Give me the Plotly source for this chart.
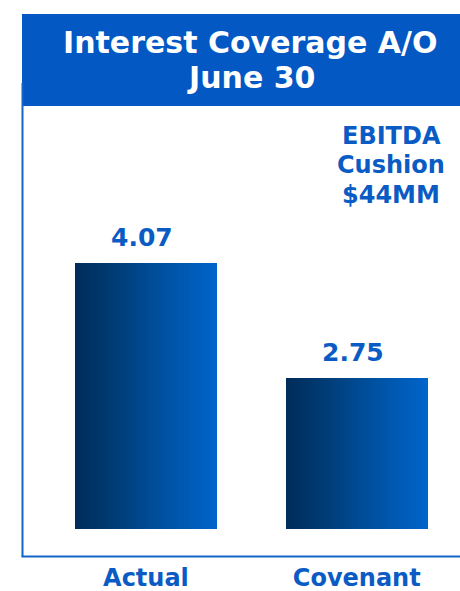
import plotly.graph_objects as go

# Data
categories = ["Actual", "Covenant"]
values = [4.07, 2.75]
value_labels = ["4.07", "2.75"]
title_lines = ["Interest Coverage A/O", "June 30"]
cushion_lines = ["EBITDA", "Cushion", "$44MM"]

# Page / plot geometry (pixels)
W, H = 460, 591
M_L, M_R, M_T, M_B = 22, 0, 106, 62
PLOT_H = H - M_T - M_B

FONT = "Verdana, DejaVu Sans, sans-serif"
HEADER_BLUE = "#0358c4"
TEXT_BLUE = "#0a5cc4"
FRAME_BLUE = "#1464c8"

BAR_W = 0.674
N_SLICES = 60
# horizontal gradient stops across each bar (position, rgb)
grad_stops = [
    (0.00, (0, 44, 90)),
    (0.25, (0, 58, 114)),
    (0.50, (0, 74, 146)),
    (0.75, (0, 88, 176)),
    (1.00, (0, 100, 204)),
]


def grad_color(t):
    for (p0, c0), (p1, c1) in zip(grad_stops[:-1], grad_stops[1:]):
        if t <= p1:
            f = (t - p0) / (p1 - p0)
            return "rgb(%d,%d,%d)" % tuple(round(a + (b - a) * f) for a, b in zip(c0, c1))
    return "rgb(%d,%d,%d)" % grad_stops[-1][1]


def py(pix):
    """pixel row -> paper y"""
    return (H - M_B - pix) / PLOT_H


def px(pix):
    """pixel column -> paper x"""
    return (pix - M_L) / (W - M_L - M_R)


fig = go.Figure()

slice_w = BAR_W / N_SLICES
for j in range(N_SLICES):
    t = (j + 0.5) / N_SLICES
    fig.add_trace(go.Bar(
        x=categories,
        y=values,
        width=slice_w * 1.15,
        offset=-BAR_W / 2 + j * slice_w,
        marker=dict(color=grad_color(t), line=dict(width=0)),
        hoverinfo="skip",
        showlegend=False,
    ))

# value labels above bars
for cat, v, lab in zip(categories, values, value_labels):
    fig.add_annotation(
        x=cat, y=v, text="<b>%s</b>" % lab, showarrow=False,
        xanchor="center", yanchor="bottom", yshift=9, xshift=-4,
        font=dict(family=FONT, size=25, color=TEXT_BLUE),
    )

# header band and title
fig.add_shape(type="rect", xref="paper", yref="paper",
              x0=px(22), x1=px(470), y0=py(106), y1=py(14),
              fillcolor=HEADER_BLUE, line=dict(width=0), layer="above")
for line, base in zip(title_lines, [54.5, 89.5]):
    fig.add_annotation(xref="paper", yref="paper", x=px(250.5), y=py(base),
                       text="<b>%s</b>" % line, showarrow=False,
                       xanchor="center", yanchor="bottom", yshift=-7,
                       font=dict(family=FONT, size=30, color="white"))

# frame: left and bottom rules
fig.add_shape(type="line", xref="paper", yref="paper",
              x0=px(22.5), x1=px(22.5), y0=py(83), y1=py(556.5),
              line=dict(color=FRAME_BLUE, width=2))
fig.add_shape(type="line", xref="paper", yref="paper",
              x0=px(21.5), x1=px(470), y0=py(556.5), y1=py(556.5),
              line=dict(color=FRAME_BLUE, width=2))

# cushion note, one line at a time
for line, base in zip(cushion_lines, [146.0, 175.0, 205.0]):
    fig.add_annotation(xref="paper", yref="paper", x=px(391), y=py(base),
                       text="<b>%s</b>" % line, showarrow=False,
                       xanchor="center", yanchor="bottom", yshift=-6,
                       font=dict(family=FONT, size=24, color=TEXT_BLUE))

fig.update_layout(
    width=W, height=H,
    margin=dict(l=M_L, r=M_R, t=M_T, b=M_B, pad=0, autoexpand=False),
    paper_bgcolor="white", plot_bgcolor="white",
    barmode="overlay", bargap=0,
    showlegend=False,
    xaxis=dict(
        range=[-0.588, 1.4898], showgrid=False, zeroline=False,
        showline=False, ticks="", automargin=False,
        tickfont=dict(family=FONT, size=24, color=TEXT_BLUE),
        ticklabelstandoff=32,
        tickvals=categories,
        ticktext=["<b>%s</b>" % c for c in categories],
    ),
    yaxis=dict(range=[1.0, 1.0 + PLOT_H / 86.5], visible=False),
)

fig.write_html("out.html")
